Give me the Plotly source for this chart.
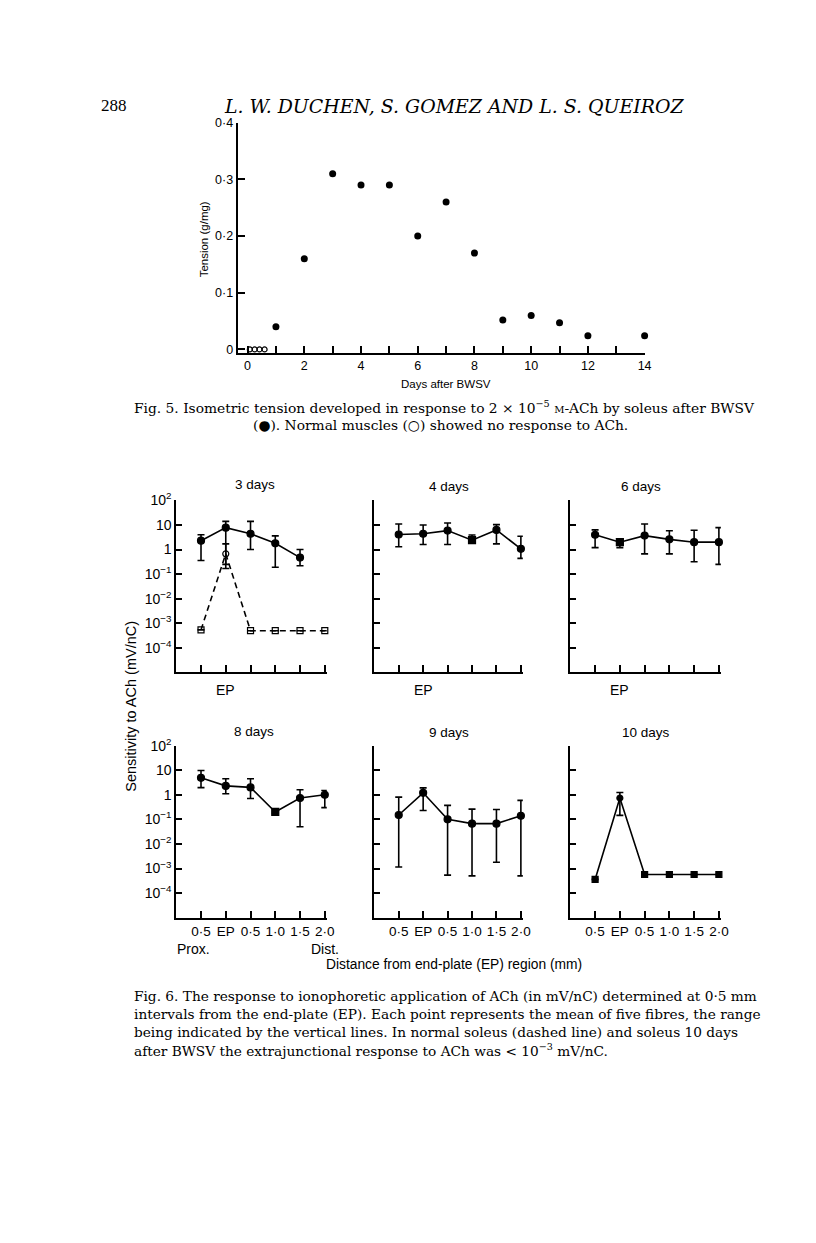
import plotly.graph_objects as go

W, H = 816, 1243

# ---------------- Fig. 5 data ----------------
fig5_days = [1, 2, 3, 4, 5, 6, 7, 8, 9, 10, 11, 12, 14]
fig5_tension = [0.04, 0.16, 0.31, 0.29, 0.29, 0.20, 0.26, 0.17, 0.052, 0.06, 0.047, 0.024, 0.024]
normal_days = [0.08, 0.25, 0.42, 0.6]
normal_tension = [0, 0, 0, 0]
fig5_xticks = list(range(0, 15))
fig5_xticktext = [str(v) if v % 2 == 0 else "" for v in fig5_xticks]
fig5_yticks = [0, 0.1, 0.2, 0.3, 0.4]
fig5_yticktext = ["0", "0·1", "0·2", "0·3", "0·4"]

# ---------------- Fig. 6 data ----------------
positions = [0, 1, 2, 3, 4, 5]
pos_labels = ["0·5", "EP", "0·5", "1·0", "1·5", "2·0"]
log_ticks = [1e-4, 1e-3, 1e-2, 1e-1, 1, 10, 100]
log_ticktext = ["10<sup>−4</sup>", "10<sup>−3</sup>", "10<sup>−2</sup>", "10<sup>−1</sup>", "1", "10", "10<sup>2</sup>"]

d3_x = [0, 1, 2, 3, 4]
d3_mean = [2.3, 7.8, 4.4, 1.8, 0.47]
d3_hi = [4.0, 14.0, 14.0, 3.6, 1.0]
d3_lo = [0.36, 0.17, 1.0, 0.19, 0.22]

norm_x = [0, 1, 2, 3, 4, 5]
norm_mean = [5.4e-4, 0.67, 5.0e-4, 5.0e-4, 5.0e-4, 5.0e-4]
norm_hi = [5.4e-4, 1.7, 5.0e-4, 5.0e-4, 5.0e-4, 5.0e-4]
norm_lo = [5.4e-4, 0.25, 5.0e-4, 5.0e-4, 5.0e-4, 5.0e-4]

d4_mean = [4.1, 4.4, 5.9, 2.4, 6.3, 1.07]
d4_hi = [11.0, 10.0, 12.0, 3.9, 10.3, 3.5]
d4_lo = [1.3, 1.6, 1.6, 1.9, 1.7, 0.44]

d6_mean = [4.0, 2.0, 3.7, 2.6, 2.0, 2.0]
d6_hi = [6.3, 2.5, 11.0, 5.8, 6.1, 7.8]
d6_lo = [1.2, 1.2, 0.67, 0.67, 0.32, 0.25]

d8_mean = [4.9, 2.3, 2.0, 0.2, 0.74, 1.0]
d8_hi = [9.7, 4.5, 4.5, 0.22, 1.6, 1.5]
d8_lo = [1.96, 1.1, 0.71, 0.18, 0.05, 0.3]

d9_mean = [0.15, 1.2, 0.10, 0.067, 0.067, 0.14]
d9_hi = [0.8, 1.9, 0.37, 0.26, 0.25, 0.59]
d9_lo = [0.00115, 0.23, 5.4e-4, 5.0e-4, 0.0018, 5.0e-4]

d10_mean = [3.6e-4, 0.74, 5.7e-4, 5.7e-4, 5.7e-4, 5.7e-4]
d10_hi = [3.6e-4, 1.23, 5.7e-4, 5.7e-4, 5.7e-4, 5.7e-4]
d10_lo = [3.6e-4, 0.145, 5.7e-4, 5.7e-4, 5.7e-4, 5.7e-4]


def px(x):
    return x / W


def py(y):
    return 1 - y / H


SANS = "Liberation Sans"
SERIF = "DejaVu Serif"

fig = go.Figure()

# Fig 5 traces
fig.add_trace(go.Scatter(x=fig5_days, y=fig5_tension, mode="markers",
                         marker=dict(symbol="circle", size=7, color="black"),
                         xaxis="x", yaxis="y", cliponaxis=False))
fig.add_trace(go.Scatter(x=normal_days, y=normal_tension, mode="markers",
                         marker=dict(symbol="circle-open", size=5, color="black", line=dict(width=1.2)),
                         xaxis="x", yaxis="y", cliponaxis=False))


def err(mean, hi, lo):
    return [h - m for h, m in zip(hi, mean)], [m - l for m, l in zip(mean, lo)]


def panel_trace(xs, mean, hi, lo, symbols, ax, dash="solid", size=7):
    up, down = err(mean, hi, lo)
    return go.Scatter(
        x=xs, y=mean, mode="lines+markers",
        line=dict(color="black", width=1.6, dash=dash),
        marker=dict(symbol=symbols, size=size, color="black", line=dict(width=1.2, color="black")),
        error_y=dict(type="data", symmetric=False, array=up, arrayminus=down,
                     color="black", thickness=1.6, width=3.5),
        xaxis="x" + ax, yaxis="y" + ax, cliponaxis=False)


fig.add_trace(panel_trace(d3_x, d3_mean, d3_hi, d3_lo, "circle", "2"))
fig.add_trace(panel_trace(norm_x, norm_mean, norm_hi, norm_lo,
                          ["square-open", "circle-open", "square-open", "square-open", "square-open", "square-open"],
                          "2", dash="6px,4px", size=6))
fig.add_trace(panel_trace(positions, d4_mean, d4_hi, d4_lo,
                          ["circle", "circle", "circle", "square", "circle", "circle"], "3"))
fig.add_trace(panel_trace(positions, d6_mean, d6_hi, d6_lo,
                          ["circle", "square", "circle", "circle", "circle", "circle"], "4"))
fig.add_trace(panel_trace(positions, d8_mean, d8_hi, d8_lo,
                          ["circle", "circle", "circle", "square", "circle", "circle"], "5"))
fig.add_trace(panel_trace(positions, d9_mean, d9_hi, d9_lo, "circle", "6"))
fig.add_trace(panel_trace(positions, d10_mean, d10_hi, d10_lo,
                          ["square", "circle", "square", "square", "square", "square"], "7", size=6))

axis_common = dict(showline=True, linecolor="black", linewidth=2, ticks="inside",
                   tickcolor="black", tickwidth=1.6, showgrid=False, zeroline=False,
                   tickfont=dict(family=SANS, size=14, color="black"))

layout = dict(width=W, height=H, margin=dict(l=0, r=0, t=0, b=0),
              paper_bgcolor="white", plot_bgcolor="white", showlegend=False)

# Fig 5 axes
layout["xaxis"] = dict(axis_common, domain=[px(240), px(651)], range=[-0.35, 14],
                       tickvals=fig5_xticks, ticktext=fig5_xticktext, ticklen=7,
                       anchor="y", tickfont=dict(family=SANS, size=12.5, color="black"))
layout["yaxis"] = dict(axis_common, domain=[py(346.7), py(114)], range=[-0.006, 0.4],
                       tickvals=fig5_yticks, ticktext=fig5_yticktext, ticklen=7,
                       anchor="x", tickfont=dict(family=SANS, size=12.5, color="black"))

cols = [(178, 330), (378, 528), (576, 728)]
rows = [(496, 670), (744, 918)]
n = 2
for r, (yt, yb) in enumerate(rows):
    for c, (xl, xr) in enumerate(cols):
        ax = str(n)
        layout["xaxis" + ax] = dict(axis_common, domain=[px(xl), px(xr)], range=[-1, 5.08],
                                    tickvals=positions,
                                    ticktext=pos_labels if r == 1 else [""] * 6,
                                    ticklen=7, anchor="y" + ax,
                                    tickfont=dict(family=SANS, size=13.5, color="black"))
        layout["yaxis" + ax] = dict(axis_common, domain=[py(yb), py(yt)], type="log", range=[-5, 2],
                                    tickvals=log_ticks, ticktext=log_ticktext,
                                    showticklabels=(c == 0), ticklen=6, anchor="x" + ax)
        n += 1

annotations = []


def text(x, y, s, size=13, family=SANS, xanchor="center", textangle=0, style="normal"):
    annotations.append(dict(x=px(x), y=py(y), xref="paper", yref="paper", text=s,
                            showarrow=False, xanchor=xanchor, yanchor="middle",
                            textangle=textangle,
                            font=dict(family=family, size=size, color="black", style=style)))


# header
text(100, 97, "288", size=17, family="Liberation Serif", xanchor="left")
text(458, 97, "L. W. DUCHEN, S. GOMEZ AND L. S. QUEIROZ", size=18.9, family=SERIF, style="italic")

# Fig 5 labels
text(206, 232, "Tension (g/mg)", size=11.5, textangle=-90)
text(450, 378, "Days after BWSV", size=11.5)
text(133, 402, "Fig. 5. Isometric tension developed in response to 2 × 10<sup>−5</sup> "
               "<span style='font-size:10px'>M</span>-ACh by soleus after BWSV",
     size=13.8, family=SERIF, xanchor="left")
text(445, 420, "(●). Normal muscles (○) showed no response to ACh.", size=13.8, family=SERIF)

# Fig 6 labels
for (x, y, s) in [(258, 480, "3 days"), (453, 482, "4 days"), (647, 482, "6 days"),
                  (257, 730, "8 days"), (453, 731, "9 days"), (652, 731, "10 days")]:
    text(x, y, s, size=13.5)
for x in [228, 428, 626]:
    text(x, 688, "EP", size=14)
text(132, 704, "Sensitivity to ACh (mV/nC)", size=14.5, textangle=-90)
text(195, 950, "Prox.", size=14)
text(328, 950, "Dist.", size=14)
text(458, 965, "Distance from end-plate (EP) region (mm)", size=13.8)

cap6 = ["Fig. 6. The response to ionophoretic application of ACh (in mV/nC) determined at 0·5 mm",
        "intervals from the end-plate (EP). Each point represents the mean of five fibres, the range",
        "being indicated by the vertical lines. In normal soleus (dashed line) and soleus 10 days",
        "after BWSV the extrajunctional response to ACh was < 10<sup>−3</sup> mV/nC."]
for i, line in enumerate(cap6):
    text(133, 997 + 18.2 * i, line, size=13.7, family=SERIF, xanchor="left")

layout["annotations"] = annotations
fig.update_layout(**layout)
fig.write_html("out.html", config={"displayModeBar": False},
               post_script="document.body.style.margin='0';document.body.style.padding='0';")
